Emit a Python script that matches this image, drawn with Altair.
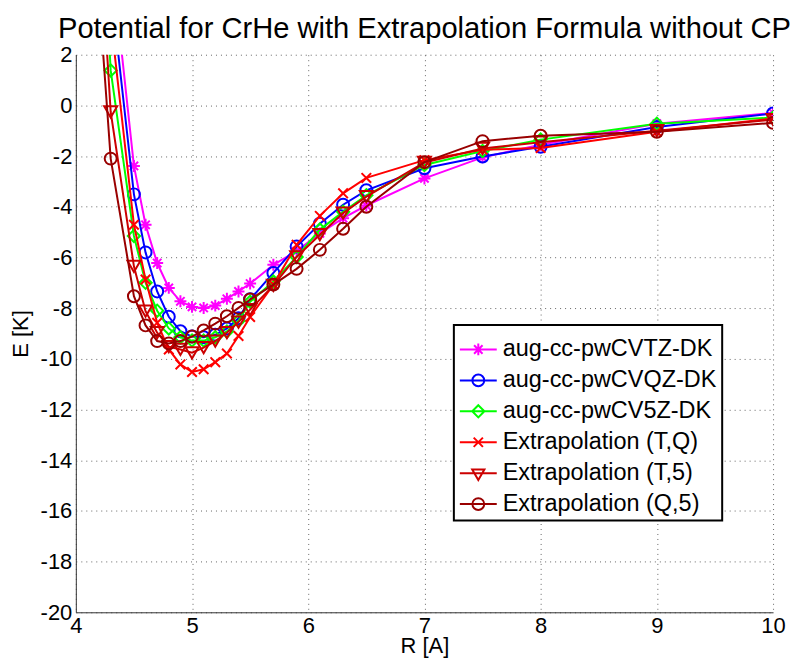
import altair as alt
import pandas as pd

# ---- data ----
R = [4.2, 4.3, 4.5, 4.6, 4.7, 4.8, 4.9, 5.0, 5.1, 5.2, 5.3, 5.4, 5.5,
     5.7, 5.9, 6.1, 6.3, 6.5, 7.0, 7.5, 8.0, 9.0, 10.0]

tz = [None, 6.13, -2.39, -4.71, -6.22, -7.20, -7.73, -7.95, -7.99, -7.90, -7.63, -7.34, -7.03,
      -6.29, -5.75, -5.05, -4.45, -3.95, -2.88, -2.05, -1.55, -0.72, -0.30]
qz = [None, 4.71, -3.51, -5.80, -7.34, -8.34, -8.91, -9.12, -9.15, -9.05, -8.80, -8.40, -7.65,
      -6.61, -5.57, -4.67, -3.92, -3.35, -2.48, -2.02, -1.63, -0.85, -0.32]
fz = [10.0, 1.38, -5.15, -7.00, -8.10, -8.80, -9.15, -9.28, -9.28, -9.15, -8.92, -8.50, -7.75,
      -6.95, -5.98, -4.90, -4.20, -3.55, -2.35, -1.80, -1.35, -0.72, -0.48]
tq = [None, 3.42, -4.71, -6.87, -8.58, -9.63, -10.22, -10.52, -10.41, -10.13, -9.79, -9.10, -8.35,
      -7.07, -5.50, -4.36, -3.47, -2.86, -2.16, -1.75, -1.68, -1.04, -0.52]
t5 = [7.24, -0.26, -6.35, -8.12, -8.97, -9.52, -9.63, -9.76, -9.56, -9.30, -8.97, -8.55, -8.06,
      -7.10, -5.98, -5.10, -4.25, -3.60, -2.25, -1.70, -1.45, -1.00, -0.56]
q5 = [4.30, -2.10, -7.53, -8.68, -9.30, -9.39, -9.30, -9.12, -8.88, -8.61, -8.32, -7.99, -7.66,
      -7.07, -6.45, -5.70, -4.87, -4.00, -2.24, -1.41, -1.20, -1.04, -0.69]

names = ["aug-cc-pwCVTZ-DK", "aug-cc-pwCVQZ-DK", "aug-cc-pwCV5Z-DK",
         "Extrapolation (T,Q)", "Extrapolation (T,5)", "Extrapolation (Q,5)"]
colors = ["#ff00ff", "#0000ff", "#00ff00", "#ff0000", "#cc0000", "#990000"]
series_values = [tz, qz, fz, tq, t5, q5]

x_ticks = [4, 5, 6, 7, 8, 9, 10]
y_ticks = list(range(-20, 3, 2))

# ---- marker shapes ----
plot_shapes = [
    "M-1,0L1,0M0,-1L0,1M-0.7,-0.7L0.7,0.7M-0.7,0.7L0.7,-0.7",
    "circle",
    "diamond",
    "M-0.8,-0.8L0.8,0.8M-0.8,0.8L0.8,-0.8",
    "triangle-down",
    "circle",
]
plot_sizes = [144, 144, 150, 144, 170, 144]

LINE = "M-1,0L1,0"
legend_shapes = [
    LINE + "M-0.32,0L0.32,0M0,-0.32L0,0.32M-0.23,-0.23L0.23,0.23M-0.23,0.23L0.23,-0.23",
    LINE + "M0.32,0A0.32,0.32,0,1,1,-0.32,0A0.32,0.32,0,1,1,0.32,0",
    LINE + "M0,-0.33L0.33,0L0,0.33L-0.33,0Z",
    LINE + "M-0.25,-0.25L0.25,0.25M-0.25,0.25L0.25,-0.25",
    LINE + "M-0.33,-0.2L0.33,-0.2L0,0.37Z",
    LINE + "M0.32,0A0.32,0.32,0,1,1,-0.32,0A0.32,0.32,0,1,1,0.32,0",
]

rows = []
for n, vals in zip(names, series_values):
    for r, e in zip(R, vals):
        if e is not None:
            rows.append({"R": r, "E": e, "series": n})
df = pd.DataFrame(rows)

FONT = "Liberation Sans"

x = alt.X("R:Q",
          scale=alt.Scale(domain=[4, 10], nice=False, zero=False),
          axis=alt.Axis(values=x_ticks, title="R [A]", labelExpr="'' + datum.value",
                        labelPadding=3, titlePadding=-1, labelFlush=False))
y = alt.Y("E:Q",
          scale=alt.Scale(domain=[-20, 2], nice=False, zero=False),
          axis=alt.Axis(values=y_ticks, title="E [K]", labelExpr="'' + datum.value",
                        labelPadding=4, titlePadding=8, labelFlush=False))

base = alt.Chart(df)
layers = []
for n, c, shp, sz in zip(names, colors, plot_shapes, plot_sizes):
    sub = base.transform_filter(alt.datum.series == n)
    layers.append(sub.mark_line(color=c, strokeWidth=2, clip=True).encode(x=x, y=y))
    layers.append(sub.mark_point(shape=shp, color=c, filled=False, size=sz,
                                 strokeWidth=2, opacity=1, clip=True).encode(x=x, y=y))

leg = alt.Legend(orient="none", legendX=379, legendY=271, title=None,
                 labelFont=FONT, labelFontSize=23.5, labelColor="black",
                 symbolSize=1369, symbolStrokeWidth=2, symbolOpacity=1,
                 strokeColor="black", fillColor="white", padding=5,
                 rowPadding=-1, labelOffset=5, labelLimit=400)

legend_layer = base.transform_filter("false").mark_point(
    filled=False, strokeWidth=2, opacity=1).encode(
    x=x, y=y,
    color=alt.Color("series:N", scale=alt.Scale(domain=names, range=colors), legend=leg),
    shape=alt.Shape("series:N", scale=alt.Scale(domain=names, range=legend_shapes), legend=leg),
)

chart = alt.layer(*layers, legend_layer).properties(
    width=699, height=559,
    padding={"left": 68, "top": 46, "right": 20, "bottom": 45},
    autosize=alt.AutoSizeParams(type="none"),
    title=alt.TitleParams("Potential for CrHe with Extrapolation Formula without CP",
                          font=FONT, fontSize=29.2, fontWeight="normal", color="black",
                          anchor="middle", frame="group", baseline="alphabetic",
                          offset=12, dy=35),
).configure_view(stroke=None).configure_axis(
    labelFont=FONT, titleFont=FONT, labelFontSize=22, titleFontSize=22,
    titleFontWeight="normal", labelColor="black", titleColor="black",
    domainColor="#333333", domainWidth=1, ticks=False,
    gridColor="#666666", gridDash=[1, 4], gridWidth=1, labelOverlap=False,
).configure_legend(strokeWidth=2)

chart.save("out.html", embed_options={"renderer": "svg", "actions": False})
